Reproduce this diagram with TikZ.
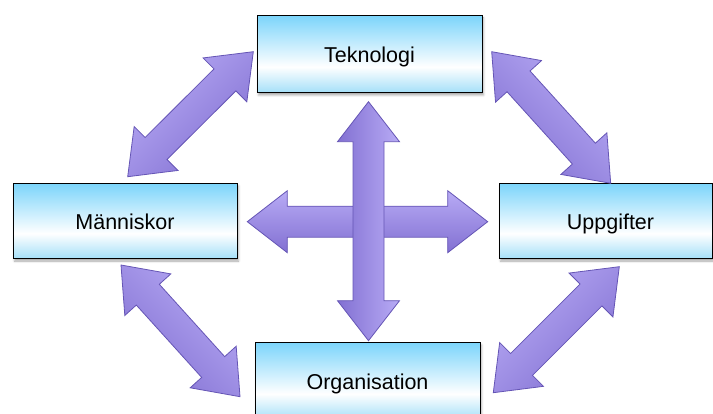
\documentclass[tikz,border=0pt]{standalone}
\usepackage{fontspec}
\setmainfont{Liberation Sans}
\usetikzlibrary{calc,shadows.blur}

\definecolor{boxtop}{HTML}{7DD5FB}
\definecolor{boxbot}{HTML}{A3DFF8}
\definecolor{arrlight}{HTML}{B8ABF5}
\definecolor{arrdark}{HTML}{8270D2}
\definecolor{arredge}{HTML}{6555B5}

% light blue fill, white band a little below the middle
\pgfdeclareverticalshading{boxfill}{100bp}{color(0bp)=(boxbot); color(25bp)=(boxbot); color(42bp)=(white); color(75bp)=(boxtop); color(100bp)=(boxtop)}

\tikzset{
  box/.style={draw=black, line width=1pt, shade, shading=boxfill,
    minimum width=225pt, minimum height=77pt, inner sep=0pt, text depth=0pt,
    blur shadow={shadow xshift=1.5pt, shadow yshift=-2pt, shadow blur steps=4, shadow opacity=35},
    font=\fontsize{21.5}{25}\selectfont},
  arrowbody/.style={draw=arredge, line width=0.8pt, line join=miter,
    left color=arrdark, right color=arrlight}
}

% double-headed block arrow from tip #1 to tip #2, shading turned by #3
\newcommand\dblarrow[3]{%
  \shade[arrowbody, shading angle=#3]
    (#1)
    -- ($(#1)!40pt!(#2)!31pt!90:(#2)$)
    -- ($(#1)!40pt!(#2)!15.5pt!90:(#2)$)
    -- ($(#2)!40pt!(#1)!15.5pt!-90:(#1)$)
    -- ($(#2)!40pt!(#1)!31pt!-90:(#1)$)
    -- (#2)
    -- ($(#2)!40pt!(#1)!31pt!90:(#1)$)
    -- ($(#2)!40pt!(#1)!15.5pt!90:(#1)$)
    -- ($(#1)!40pt!(#2)!15.5pt!-90:(#2)$)
    -- ($(#1)!40pt!(#2)!31pt!-90:(#2)$)
    -- cycle;}

\begin{document}
\begin{tikzpicture}[x=1pt,y=-1pt]
\useasboundingbox (0,0) rectangle (713,414);
\clip (0,0) rectangle (713,414);

% boxes
\node[box] (tek) at (369.5,54.5) {Teknologi};
\node[box, minimum width=224pt, minimum height=75pt] (man) at (125,221.5) {Människor};
\node[box, minimum width=213pt, minimum height=75pt] (upp) at (605.5,221.5) {\hspace*{10pt}Uppgifter};
\node[box] (org) at (367.5,381.5) {Organisation};

% arrow tips
\coordinate (tl1) at (253.3,51.7);
\coordinate (tl2) at (127.7,176.7);
\coordinate (tr1) at (491.7,51.7);
\coordinate (tr2) at (610.7,183.3);
\coordinate (bl1) at (121,265);
\coordinate (bl2) at (240,396.7);
\coordinate (br1) at (619.3,266.7);
\coordinate (br2) at (493.3,392.7);
\coordinate (cl) at (247.3,221.7);
\coordinate (cr) at (487.7,221.7);
\coordinate (ct) at (368.5,101.7);
\coordinate (cb) at (368.5,340.7);

% outer arrows
\dblarrow{tl1}{tl2}{225}
\dblarrow{tr1}{tr2}{135}
\dblarrow{bl1}{bl2}{135}
\dblarrow{br1}{br2}{225}

% central cross
\dblarrow{cl}{cr}{180}
\dblarrow{ct}{cb}{90}
\end{tikzpicture}
\end{document}
